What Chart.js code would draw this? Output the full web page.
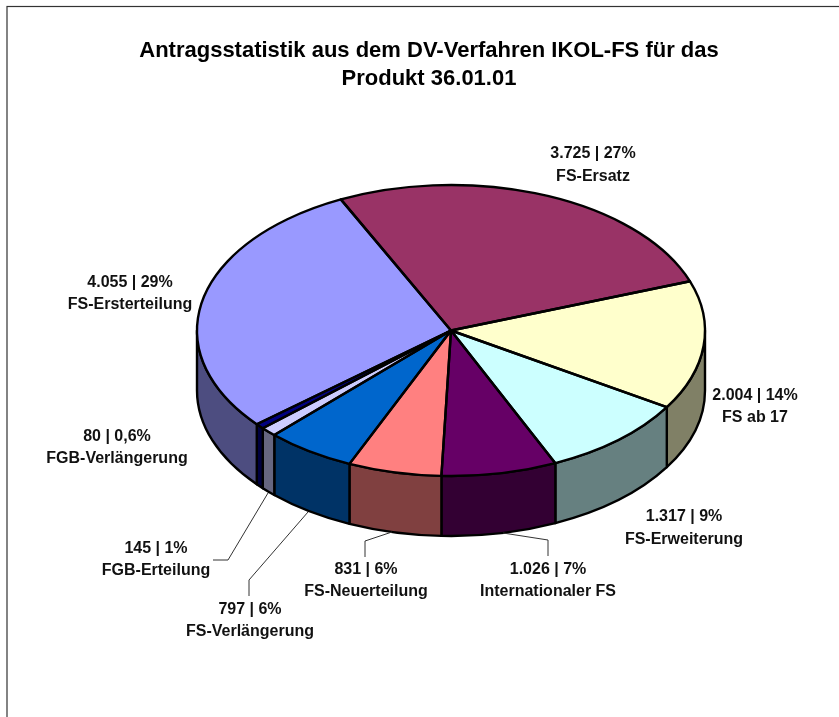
<!DOCTYPE html>
<html lang="de">
<head>
<meta charset="utf-8">
<title>Antragsstatistik</title>
<style>
html,body{margin:0;padding:0;background:#fff;overflow:hidden}
canvas{display:block}
</style>
<script src="https://cdn.jsdelivr.net/npm/chart.js@4"></script>
</head>
<body>
<canvas id="c" width="839" height="717"></canvas>
<script>
const titleLines = ['Antragsstatistik aus dem DV-Verfahren IKOL-FS für das', 'Produkt 36.01.01'];
const categories = ['FS-Ersatz', 'FS ab 17', 'FS-Erweiterung', 'Internationaler FS', 'FS-Neuerteilung', 'FS-Verlängerung', 'FGB-Erteilung', 'FGB-Verlängerung', 'FS-Ersterteilung'];
const values = [3725, 2004, 1317, 1026, 831, 797, 145, 80, 4055];
const valueLabels = ['3.725', '2.004', '1.317', '1.026', '831', '797', '145', '80', '4.055'];
const percentLabels = ['27%', '14%', '9%', '7%', '6%', '6%', '1%', '0,6%', '29%'];
const topColors = ['#993366', '#FFFFCC', '#CCFFFF', '#660066', '#FF8080', '#0066CC', '#CCCCFF', '#000080', '#9999FF'];
const wallColors = ['#4D1A33', '#808066', '#668080', '#330033', '#804040', '#003366', '#666680', '#000040', '#4D4D80'];

const pie3d = {
  id: 'pie3d',
  geometry: { cx: 451, cy: 330.5, rx: 254, ry: 145.5, depth: 60 },
  labelAnchors: [[593,154,177],[755,396,418],[684,517,540],[548,570,592],[366,570,592],[250,610,632],[156,549,571],[117,437,459],[130,283,305]],
  leaders: [
    [[503,533],[548,540],[548,556]],
    [[392,532],[365,541],[365,557]],
    [[308,512],[249,580],[249,596]],
    [[268,493],[228,560],[213,560]]
  ],
  arcs(chart) { return chart.getDatasetMeta(0).data; },
  toScreen(ctx, arc) {
    const g = this.geometry, R = arc.outerRadius;
    ctx.translate(g.cx, g.cy);
    ctx.scale(g.rx / R, g.ry / R);
    ctx.translate(-arc.x, -arc.y);
  },
  beforeDraw(chart) {
    const ctx = chart.ctx;
    ctx.save();
    ctx.fillStyle = '#fff';
    ctx.fillRect(0, 0, chart.width, chart.height);
    ctx.strokeStyle = '#333';
    ctx.lineWidth = 1.2;
    ctx.strokeRect(7, 6.5, chart.width + 40, chart.height + 40);
    ctx.restore();
  },
  beforeDatasetsDraw(chart) {
    const ctx = chart.ctx, g = this.geometry;
    ctx.save();
    ctx.lineJoin = 'round';
    this.arcs(chart).forEach((arc, i) => {
      const a = Math.max(arc.startAngle, 0), b = Math.min(arc.endAngle, Math.PI);
      if (b <= a) return;
      ctx.beginPath();
      ctx.ellipse(g.cx, g.cy, g.rx, g.ry, 0, a, b);
      ctx.ellipse(g.cx, g.cy + g.depth, g.rx, g.ry, 0, b, a, true);
      ctx.closePath();
      ctx.fillStyle = wallColors[i];
      ctx.fill();
      ctx.strokeStyle = '#000';
      ctx.lineWidth = 2.4;
      ctx.stroke();
    });
    ctx.restore();
    ctx.save();
    this.toScreen(ctx, this.arcs(chart)[0]);
  },
  afterDatasetsDraw(chart) {
    const ctx = chart.ctx;
    ctx.restore();
    ctx.save();
    ctx.strokeStyle = '#000';
    ctx.lineWidth = 2.4;
    ctx.lineJoin = 'round';
    this.arcs(chart).forEach(arc => {
      ctx.save();
      this.toScreen(ctx, arc);
      ctx.beginPath();
      ctx.moveTo(arc.x, arc.y);
      ctx.arc(arc.x, arc.y, arc.outerRadius, arc.startAngle, arc.endAngle);
      ctx.closePath();
      ctx.restore();
      ctx.stroke();
    });
    ctx.strokeStyle = '#333';
    ctx.lineWidth = 1;
    this.leaders.forEach(pts => {
      ctx.beginPath();
      pts.forEach((p, k) => k ? ctx.lineTo(p[0], p[1]) : ctx.moveTo(p[0], p[1]));
      ctx.stroke();
    });
    ctx.fillStyle = '#111';
    ctx.font = 'bold 16px "Liberation Sans", Arial, sans-serif';
    ctx.textAlign = 'center';
    ctx.textBaseline = 'middle';
    categories.forEach((name, i) => {
      const [x, y1, y2] = this.labelAnchors[i];
      ctx.fillText(valueLabels[i] + ' | ' + percentLabels[i], x, y1);
      ctx.fillText(name, x, y2);
    });
    ctx.restore();
  }
};

new Chart(document.getElementById('c'), {
  type: 'pie',
  data: {
    labels: categories,
    datasets: [{
      data: values,
      backgroundColor: topColors,
      borderWidth: 0,
      clip: false
    }]
  },
  options: {
    responsive: false,
    animation: false,
    rotation: -25.7,
    layout: { padding: { left: 19, top: 0, right: 0, bottom: 0 } },
    plugins: {
      legend: { display: false },
      tooltip: { enabled: false },
      title: {
        display: true,
        text: titleLines,
        color: '#000',
        font: { family: '"Liberation Sans", Arial, sans-serif', size: 22, weight: 'bold', lineHeight: 1.27 },
        padding: { top: 37, bottom: 10 }
      }
    }
  },
  plugins: [pie3d]
});
</script>
</body>
</html>
